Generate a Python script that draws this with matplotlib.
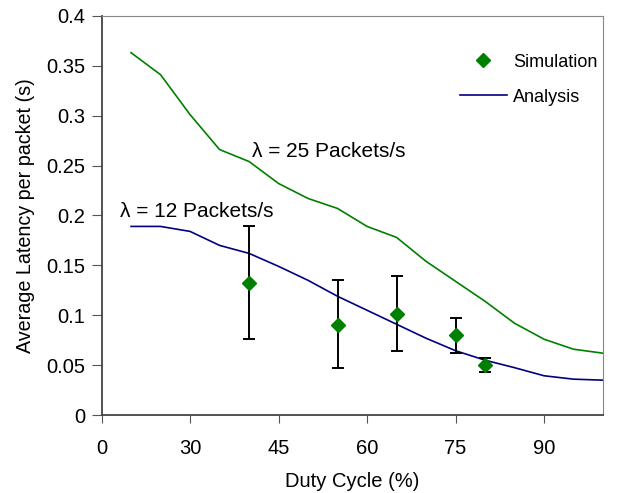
import matplotlib.pyplot as plt
import numpy as np

plt.rcParams['font.family'] = ['Liberation Sans', 'DejaVu Sans']

# analysis curves (duty cycle in %)
duty = [20, 25, 30, 35, 40, 45, 50, 55, 60, 65, 70, 75, 80, 85, 90, 95, 100]
lat_25 = [0.363, 0.341, 0.301, 0.266, 0.254, 0.232, 0.217, 0.207, 0.189, 0.178,
          0.154, 0.134, 0.114, 0.092, 0.076, 0.066, 0.062]
lat_12 = [0.189, 0.189, 0.184, 0.170, 0.162, 0.149, 0.135, 0.119, 0.105, 0.091,
          0.077, 0.0645, 0.055, 0.0475, 0.0394, 0.036, 0.035]

# simulation points with min / max
sim_x = [40, 55, 65, 75, 80]
sim_y = [0.132, 0.090, 0.101, 0.080, 0.050]
sim_lo = [0.076, 0.047, 0.0645, 0.0625, 0.0435]
sim_hi = [0.189, 0.135, 0.139, 0.097, 0.057]

xticks = [15, 30, 45, 60, 75, 90]
xlabels = ['0', '30', '45', '60', '75', '90']
yticks = [0, 0.05, 0.1, 0.15, 0.2, 0.25, 0.3, 0.35, 0.4]
ylabels = ['0', '0.05', '0.1', '0.15', '0.2', '0.25', '0.3', '0.35', '0.4']

fig = plt.figure(figsize=(6.23, 4.93), dpi=100)
ax = fig.add_axes([0.163, 0.158, 0.805, 0.810])

ax.plot(duty, lat_25, c='#008000', lw=1.2)
line12, = ax.plot(duty, lat_12, c='#000080', lw=1.2, label='Analysis')

yerr = [np.array(sim_y) - np.array(sim_lo), np.array(sim_hi) - np.array(sim_y)]
ax.errorbar(sim_x, sim_y, yerr=yerr, fmt='none', ecolor='black', elinewidth=1.4,
            capsize=4.5, capthick=1.4)
pts, = ax.plot(sim_x, sim_y, 'D', c='#008000', ms=7.5, label='Simulation', zorder=5)

ax.text(40.5, 0.259, 'λ = 25 Packets/s', fontsize=15, va='baseline')
ax.text(18.1, 0.198, 'λ = 12 Packets/s', fontsize=15, va='baseline')

ax.set_xlim(15, 100)
ax.set_ylim(0, 0.4)
ax.set_xticks(xticks)
ax.set_xticklabels(xlabels)
ax.set_yticks(yticks)
ax.set_yticklabels(ylabels)
ax.tick_params(axis='both', labelsize=14.5, color='#555555')
ax.tick_params(axis='y', length=7, pad=4.5)
ax.tick_params(axis='x', length=5.5, pad=12)

for s in ['top', 'right']:
    ax.spines[s].set_color('#888888')
for s in ['left', 'bottom']:
    ax.spines[s].set_color('#444444')
    ax.spines[s].set_linewidth(1.3)

ax.set_xlabel('Duty Cycle (%)', fontsize=14.5, labelpad=10)
ax.set_ylabel('Average Latency per packet (s)', fontsize=14.2, labelpad=8)

ax.legend(handles=[pts, line12], loc='upper left', frameon=False, fontsize=13,
          bbox_to_anchor=(0.714, 0.905), borderpad=0, borderaxespad=0,
          handlelength=2.6, handletextpad=0.35, labelspacing=1.0)

plt.savefig('out.png')
